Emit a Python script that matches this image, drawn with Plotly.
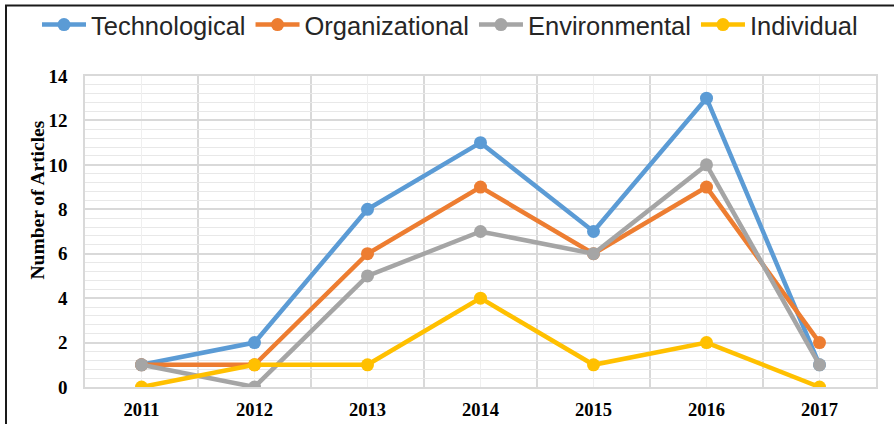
import plotly.graph_objects as go

years = [2011, 2012, 2013, 2014, 2015, 2016, 2017]
technological = [1, 2, 8, 11, 7, 13, 1]
organizational = [1, 1, 6, 9, 6, 9, 2]
environmental = [1, 0, 5, 7, 6, 10, 1]
individual = [0, 1, 1, 4, 1, 2, 0]

series = [
    ("Technological", technological, "#5B9BD5"),
    ("Organizational", organizational, "#ED7D31"),
    ("Environmental", environmental, "#A5A5A5"),
    ("Individual", individual, "#FFC000"),
]

fig = go.Figure()
for name, vals, col in series:
    fig.add_trace(go.Scatter(
        x=years, y=vals, name=name, mode="lines+markers",
        line=dict(color=col, width=4.5),
        marker=dict(color=col, size=13),
    ))

W, H = 894, 424
L, R, T, B = 85, 876, 76, 387
pw, ph = R - L, B - T

def px(x):
    return (x - L) / pw

def py(y):
    return (B - y) / ph

serif = "Liberation Serif, Times New Roman"

fig.update_layout(
    width=W, height=H,
    margin=dict(l=L, r=W - R, t=T, b=H - B, pad=0, autoexpand=False),
    plot_bgcolor="white", paper_bgcolor="white",
    showlegend=True,
    legend=dict(
        orientation="h", x=px(37), xanchor="left", y=py(25), yanchor="middle",
        font=dict(family="Liberation Sans, Arial", size=25.5, color="#262626"),
        bgcolor="rgba(0,0,0,0)", itemclick=False, itemwidth=44,
    ),
    xaxis=dict(
        range=[2010.5, 2017.5], tickmode="array", tickvals=years,
        ticktext=[str(y) for y in years],
        tickfont=dict(family=serif, size=18.5, color="black", weight="bold"),
        showgrid=True, gridcolor="#EFEFEF", gridwidth=1,
        minor=dict(tick0=2010.5, dtick=1, showgrid=True, gridcolor="#D9D9D9", gridwidth=1.5),
        showline=True, linecolor="#D9D9D9", linewidth=1.5, mirror=True,
        zeroline=False, ticks="", ticklabelstandoff=5,
    ),
    yaxis=dict(
        range=[0, 14], dtick=2, tick0=0,
        tickfont=dict(family=serif, size=19, color="black", weight="bold"),
        showgrid=True, gridcolor="#D9D9D9", gridwidth=1.5,
        minor=dict(dtick=0.4, tick0=0, showgrid=True, gridcolor="#E8E8E8", gridwidth=1),
        showline=True, linecolor="#D9D9D9", linewidth=1.5, mirror=True,
        zeroline=False, ticks="", ticklabelstandoff=12,
    ),
    annotations=[dict(
        text="Number of Articles", xref="paper", yref="paper",
        x=px(36.5), y=py(200), xanchor="center", yanchor="middle",
        textangle=-90, showarrow=False,
        font=dict(family=serif, size=19.5, color="black", weight="bold"),
    )],
    shapes=[dict(
        type="rect", xref="paper", yref="paper",
        x0=px(6), x1=px(905), y0=py(440), y1=py(5.5),
        line=dict(color="#1a1a1a", width=2), fillcolor="rgba(0,0,0,0)", layer="above",
    )],
)

fig.write_html("out.html", config={"displayModeBar": False},
               post_script="document.body.style.margin='0px';document.body.style.padding='0px';")
